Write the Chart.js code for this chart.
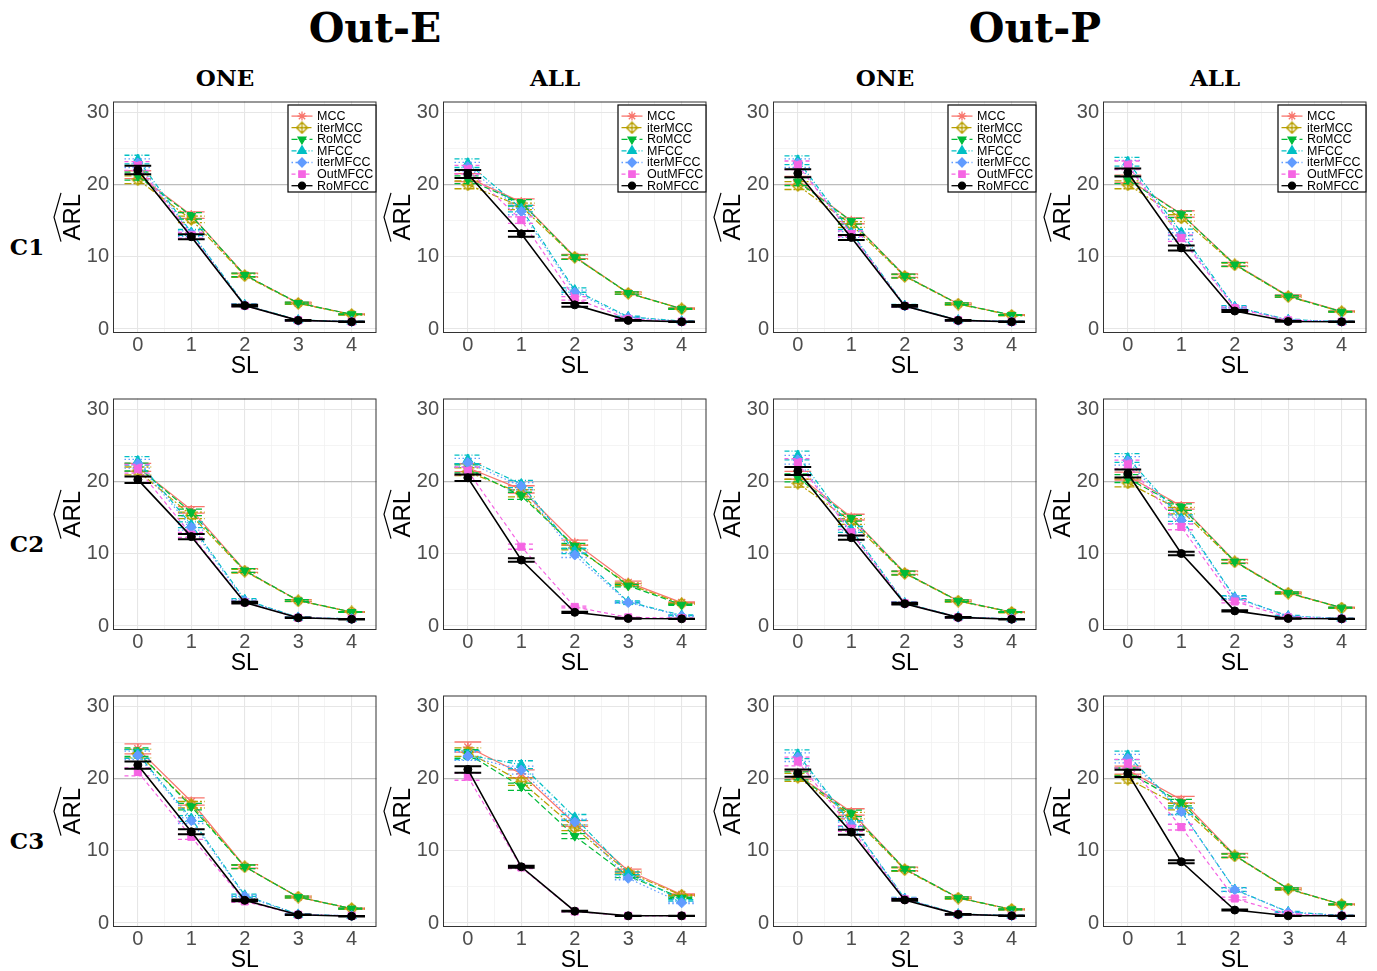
<!DOCTYPE html>
<html>
<head>
<meta charset="utf-8">
<script src="https://cdn.jsdelivr.net/npm/chart.js@4.4.0/dist/chart.umd.min.js"></script>
<style>
  body { margin: 0; background: #fff; width: 1377px; height: 971px; position: relative; overflow: hidden; }
  canvas.panel { position: absolute; }
  .lbl { position: absolute; transform: translate(-50%, -50%); font-family: "DejaVu Serif", serif; font-weight: bold; color: #000; white-space: nowrap; }
  .big { font-size: 41px; }
  .small { font-size: 23px; }
</style>
</head>
<body>
<div class="lbl big" style="left:375px;top:28px">Out-E</div>
<div class="lbl big" style="left:1035px;top:28px">Out-P</div>
<div class="lbl small" style="left:225px;top:77px">ONE</div>
<div class="lbl small" style="left:555px;top:77px">ALL</div>
<div class="lbl small" style="left:885px;top:77px">ONE</div>
<div class="lbl small" style="left:1215px;top:77px">ALL</div>
<div class="lbl small" style="left:27px;top:246px">C1</div>
<div class="lbl small" style="left:27px;top:543px">C2</div>
<div class="lbl small" style="left:27px;top:840px">C3</div>

<script>
// methods, in legend order
const SERIES = ['MCC', 'iterMCC', 'RoMCC', 'MFCC', 'iterMFCC', 'OutMFCC', 'RoMFCC'];
const COLORS = ['#F8766D', '#B79F00', '#00BA38', '#00BFC4', '#619CFF', '#F564E3', '#000000'];
const DASHES = [[], [7, 2, 2, 2], [6, 3], [5, 2, 1, 2], [1.5, 2.5], [4, 3], []];
const SL = [0, 1, 2, 3, 4];

// ARL estimates, one row per method (same order as SERIES)
const ARL_C1_E_ONE = [
  [21.4, 15.8, 7.5, 3.6, 2.05],
  [20.7, 15.2, 7.4, 3.55, 2.0],
  [21.2, 15.7, 7.5, 3.6, 2.05],
  [23.5, 13.4, 3.35, 1.25, 1.05],
  [23.0, 13.2, 3.3, 1.2, 1.02],
  [22.6, 13.0, 3.25, 1.2, 1.02],
  [22.05, 12.8, 3.25, 1.2, 1.0]
];
const ARL_C1_E_ALL = [
  [21.0, 17.6, 10.05, 5.0, 2.85],
  [20.0, 17.0, 9.95, 4.95, 2.8],
  [20.7, 17.5, 9.95, 5.0, 2.8],
  [23.0, 16.7, 5.4, 1.7, 1.1],
  [22.5, 16.3, 5.1, 1.6, 1.05],
  [22.1, 15.1, 4.25, 1.4, 1.03],
  [21.5, 13.2, 3.35, 1.2, 1.0]
];
const ARL_C1_P_ONE = [
  [20.6, 15.0, 7.4, 3.5, 1.95],
  [19.9, 14.5, 7.3, 3.45, 1.9],
  [20.45, 14.95, 7.35, 3.5, 1.95],
  [23.4, 13.4, 3.25, 1.25, 1.05],
  [23.0, 13.1, 3.2, 1.2, 1.02],
  [22.7, 13.2, 3.2, 1.2, 1.02],
  [21.6, 12.7, 3.2, 1.2, 1.0]
];
const ARL_C1_P_ALL = [
  [20.8, 15.95, 9.0, 4.6, 2.45],
  [20.0, 15.4, 8.9, 4.5, 2.4],
  [20.7, 15.9, 8.95, 4.55, 2.4],
  [23.2, 13.4, 3.1, 1.3, 1.05],
  [22.8, 12.9, 3.0, 1.25, 1.03],
  [22.7, 12.6, 2.9, 1.2, 1.02],
  [21.7, 11.25, 2.5, 1.05, 1.0]
];
const ARL_C2_E_ONE = [
  [22.0, 16.1, 7.7, 3.55, 1.95],
  [21.5, 15.35, 7.6, 3.5, 1.95],
  [22.05, 15.75, 7.7, 3.55, 1.95],
  [22.9, 14.05, 3.65, 1.2, 1.0],
  [22.5, 13.7, 3.5, 1.2, 1.0],
  [21.8, 12.65, 3.3, 1.15, 1.0],
  [20.3, 12.4, 3.25, 1.15, 0.95]
];
const ARL_C2_E_ALL = [
  [21.95, 18.95, 11.55, 6.05, 3.25],
  [21.4, 18.4, 10.9, 5.8, 3.1],
  [21.8, 18.05, 11.1, 5.6, 2.95],
  [23.1, 19.7, 10.4, 3.35, 1.5],
  [22.65, 19.4, 9.85, 3.25, 1.4],
  [21.5, 11.0, 2.65, 1.2, 1.1],
  [20.55, 9.15, 1.9, 1.05, 1.0]
];
const ARL_C2_P_ONE = [
  [20.9, 15.1, 7.4, 3.5, 1.95],
  [19.8, 14.5, 7.3, 3.45, 1.9],
  [20.55, 14.95, 7.35, 3.5, 1.95],
  [23.65, 13.4, 3.2, 1.25, 1.0],
  [23.05, 12.9, 3.15, 1.2, 1.0],
  [22.6, 13.0, 3.15, 1.2, 1.0],
  [21.5, 12.25, 3.1, 1.2, 0.95]
];
const ARL_C2_P_ALL = [
  [20.8, 16.65, 9.0, 4.6, 2.55],
  [19.85, 16.0, 8.9, 4.55, 2.5],
  [20.45, 16.5, 8.95, 4.6, 2.55],
  [23.3, 14.95, 4.0, 1.4, 1.05],
  [22.9, 14.65, 3.9, 1.35, 1.03],
  [22.4, 13.75, 3.4, 1.2, 1.02],
  [21.15, 10.05, 2.1, 1.05, 1.0]
];
const ARL_C3_E_ONE = [
  [24.15, 16.85, 7.85, 3.6, 2.0],
  [23.5, 16.4, 7.8, 3.6, 2.0],
  [23.7, 16.15, 7.8, 3.6, 2.0],
  [23.45, 14.5, 3.85, 1.2, 1.0],
  [23.25, 14.2, 3.7, 1.2, 1.0],
  [20.95, 11.95, 3.0, 1.15, 1.0],
  [21.9, 12.65, 3.15, 1.15, 0.95]
];
const ARL_C3_E_ALL = [
  [24.4, 20.7, 13.8, 7.25, 3.95],
  [23.7, 19.6, 13.2, 7.0, 3.85],
  [23.45, 18.9, 12.05, 6.5, 3.5],
  [23.3, 21.95, 14.65, 6.9, 3.15],
  [23.15, 21.2, 14.0, 6.2, 2.8],
  [20.3, 7.7, 1.6, 1.0, 1.0],
  [21.3, 7.8, 1.65, 1.0, 1.0]
];
const ARL_C3_P_ONE = [
  [20.5, 15.4, 7.5, 3.5, 1.9],
  [20.2, 14.9, 7.4, 3.45, 1.9],
  [20.4, 15.2, 7.5, 3.5, 1.9],
  [23.4, 13.8, 3.4, 1.25, 1.05],
  [23.0, 13.6, 3.35, 1.2, 1.02],
  [22.4, 13.1, 3.3, 1.2, 1.02],
  [20.8, 12.6, 3.2, 1.2, 1.0]
];
const ARL_C3_P_ALL = [
  [21.2, 17.1, 9.4, 4.75, 2.6],
  [19.95, 16.15, 9.3, 4.7, 2.55],
  [20.95, 16.7, 9.35, 4.75, 2.6],
  [23.25, 15.5, 4.65, 1.55, 1.05],
  [22.8, 15.45, 4.6, 1.5, 1.03],
  [22.1, 13.3, 3.4, 1.2, 1.02],
  [20.75, 8.5, 1.8, 1.0, 1.0]
];

// half-widths of the error bars, same layout as above
const SE_C1_E_ONE = [
  [0.55, 0.45, 0.25, 0.12, 0.06], [0.55, 0.45, 0.25, 0.12, 0.06], [0.55, 0.45, 0.25, 0.12, 0.06],
  [0.6, 0.4, 0.15, 0.05, 0.03], [0.6, 0.4, 0.15, 0.05, 0.03], [0.6, 0.4, 0.15, 0.05, 0.03],
  [0.6, 0.35, 0.12, 0.05, 0.03]
];
const SE_C1_E_ALL = [
  [0.55, 0.45, 0.3, 0.15, 0.07], [0.55, 0.45, 0.3, 0.15, 0.07], [0.55, 0.45, 0.3, 0.15, 0.07],
  [0.6, 0.45, 0.3, 0.08, 0.03], [0.6, 0.45, 0.3, 0.08, 0.03], [0.6, 0.45, 0.25, 0.07, 0.03],
  [0.55, 0.4, 0.25, 0.06, 0.03]
];
const SE_C1_P_ONE = [
  [0.55, 0.4, 0.25, 0.12, 0.06], [0.55, 0.4, 0.25, 0.12, 0.06], [0.55, 0.4, 0.25, 0.12, 0.06],
  [0.6, 0.4, 0.15, 0.05, 0.03], [0.6, 0.4, 0.15, 0.05, 0.03], [0.6, 0.4, 0.15, 0.05, 0.03],
  [0.55, 0.35, 0.12, 0.05, 0.03]
];
const SE_C1_P_ALL = [
  [0.55, 0.45, 0.25, 0.12, 0.06], [0.55, 0.45, 0.25, 0.12, 0.06], [0.55, 0.45, 0.25, 0.12, 0.06],
  [0.6, 0.45, 0.15, 0.05, 0.03], [0.6, 0.45, 0.15, 0.05, 0.03], [0.6, 0.45, 0.15, 0.05, 0.03],
  [0.55, 0.35, 0.15, 0.05, 0.03]
];
const SE_C2_E_ONE = [
  [0.55, 0.45, 0.25, 0.12, 0.06], [0.55, 0.45, 0.25, 0.12, 0.06], [0.55, 0.45, 0.25, 0.12, 0.06],
  [0.6, 0.4, 0.15, 0.05, 0.03], [0.6, 0.4, 0.15, 0.05, 0.03], [0.6, 0.35, 0.15, 0.05, 0.03],
  [0.45, 0.35, 0.12, 0.05, 0.03]
];
const SE_C2_E_ALL = [
  [0.55, 0.5, 0.35, 0.18, 0.08], [0.55, 0.5, 0.35, 0.18, 0.08], [0.55, 0.5, 0.35, 0.18, 0.08],
  [0.6, 0.5, 0.35, 0.12, 0.05], [0.6, 0.5, 0.35, 0.12, 0.05], [0.55, 0.35, 0.12, 0.04, 0.02],
  [0.45, 0.25, 0.08, 0.03, 0.02]
];
const SE_C2_P_ONE = [
  [0.55, 0.4, 0.25, 0.12, 0.06], [0.55, 0.4, 0.25, 0.12, 0.06], [0.55, 0.4, 0.25, 0.12, 0.06],
  [0.6, 0.4, 0.15, 0.05, 0.03], [0.6, 0.4, 0.15, 0.05, 0.03], [0.6, 0.4, 0.15, 0.05, 0.03],
  [0.55, 0.3, 0.12, 0.05, 0.03]
];
const SE_C2_P_ALL = [
  [0.55, 0.45, 0.25, 0.12, 0.06], [0.55, 0.45, 0.25, 0.12, 0.06], [0.55, 0.45, 0.25, 0.12, 0.06],
  [0.6, 0.45, 0.2, 0.06, 0.03], [0.6, 0.45, 0.2, 0.06, 0.03], [0.6, 0.4, 0.2, 0.05, 0.03],
  [0.55, 0.25, 0.08, 0.04, 0.02]
];
const SE_C3_E_ONE = [
  [0.7, 0.5, 0.25, 0.12, 0.06], [0.6, 0.45, 0.25, 0.12, 0.06], [0.6, 0.45, 0.25, 0.12, 0.06],
  [0.6, 0.4, 0.15, 0.05, 0.03], [0.6, 0.4, 0.15, 0.05, 0.03], [0.55, 0.35, 0.12, 0.05, 0.03],
  [0.5, 0.35, 0.12, 0.05, 0.03]
];
const SE_C3_E_ALL = [
  [0.7, 0.55, 0.4, 0.22, 0.1], [0.6, 0.5, 0.4, 0.2, 0.1], [0.6, 0.5, 0.35, 0.2, 0.1],
  [0.65, 0.55, 0.4, 0.2, 0.1], [0.6, 0.55, 0.4, 0.2, 0.1], [0.5, 0.15, 0.05, 0.02, 0.02],
  [0.45, 0.15, 0.05, 0.02, 0.02]
];
const SE_C3_P_ONE = [
  [0.55, 0.45, 0.25, 0.12, 0.06], [0.55, 0.45, 0.25, 0.12, 0.06], [0.55, 0.45, 0.25, 0.12, 0.06],
  [0.6, 0.4, 0.15, 0.05, 0.03], [0.6, 0.4, 0.15, 0.05, 0.03], [0.6, 0.4, 0.15, 0.05, 0.03],
  [0.5, 0.35, 0.12, 0.05, 0.03]
];
const SE_C3_P_ALL = [
  [0.55, 0.45, 0.25, 0.12, 0.06], [0.55, 0.45, 0.25, 0.12, 0.06], [0.55, 0.45, 0.25, 0.12, 0.06],
  [0.6, 0.45, 0.25, 0.07, 0.03], [0.6, 0.45, 0.25, 0.07, 0.03], [0.6, 0.4, 0.2, 0.05, 0.03],
  [0.5, 0.2, 0.07, 0.02, 0.02]
];

const PANELS = [
  [ARL_C1_E_ONE, SE_C1_E_ONE], [ARL_C1_E_ALL, SE_C1_E_ALL], [ARL_C1_P_ONE, SE_C1_P_ONE], [ARL_C1_P_ALL, SE_C1_P_ALL],
  [ARL_C2_E_ONE, SE_C2_E_ONE], [ARL_C2_E_ALL, SE_C2_E_ALL], [ARL_C2_P_ONE, SE_C2_P_ONE], [ARL_C2_P_ALL, SE_C2_P_ALL],
  [ARL_C3_E_ONE, SE_C3_E_ONE], [ARL_C3_E_ALL, SE_C3_E_ALL], [ARL_C3_P_ONE, SE_C3_P_ONE], [ARL_C3_P_ALL, SE_C3_P_ALL]
];

const CAP = 0.25;            // half width of error bar caps (x units)
const AXIS_W = 70, AXIS_H = 55;
const PLOT_W = 264, PLOT_H = 234;
const SANS = '"Liberation Sans", Arial, sans-serif';

// hollow diamond with a plus inside (iterMCC marker)
function diamondPlus(color) {
  const c = document.createElement('canvas');
  c.width = c.height = 13;
  const g = c.getContext('2d');
  g.strokeStyle = color; g.lineWidth = 1.3;
  g.beginPath();
  g.moveTo(6.5, 1); g.lineTo(12, 6.5); g.lineTo(6.5, 12); g.lineTo(1, 6.5); g.closePath();
  g.moveTo(6.5, 1); g.lineTo(6.5, 12); g.moveTo(1, 6.5); g.lineTo(12, 6.5);
  g.stroke();
  return c;
}

const MARKERS = [
  { style: 'star', rot: 0, r: 5 },
  { style: diamondPlus(COLORS[1]), rot: 0, r: 5 },
  { style: 'triangle', rot: 180, r: 5 },
  { style: 'triangle', rot: 0, r: 5.5 },
  { style: 'rectRot', rot: 0, r: 5 },
  { style: 'rect', rot: 0, r: 5 },
  { style: 'circle', rot: 0, r: 4 }
];

// error bars go under each method's own line and points
const errorBars = {
  id: 'errorBars',
  beforeDatasetDraw(chart, args) {
    const ds = chart.data.datasets[args.index];
    const xs = chart.scales.x, ys = chart.scales.y, ctx = chart.ctx;
    ctx.save();
    ctx.strokeStyle = ds.borderColor;
    ctx.lineWidth = ds.errWidth;
    ctx.setLineDash(ds.borderDash);
    ds.data.forEach((p, i) => {
      const hi = ys.getPixelForValue(p.y + ds.err[i]);
      const lo = ys.getPixelForValue(p.y - ds.err[i]);
      const x0 = xs.getPixelForValue(p.x - CAP), x1 = xs.getPixelForValue(p.x + CAP);
      const xc = xs.getPixelForValue(p.x);
      ctx.beginPath();
      ctx.moveTo(x0, hi); ctx.lineTo(x1, hi);
      ctx.moveTo(x0, lo); ctx.lineTo(x1, lo);
      ctx.moveTo(xc, hi); ctx.lineTo(xc, lo);
      ctx.stroke();
    });
    ctx.restore();
  }
};

const panelFrame = {
  id: 'panelFrame',
  afterDatasetsDraw(chart) {
    const { ctx, chartArea: a } = chart;
    ctx.save();
    ctx.strokeStyle = '#333333';
    ctx.lineWidth = 1;
    ctx.strokeRect(a.left + 0.5, a.top + 0.5, a.width - 1, a.height - 1);
    ctx.restore();
  }
};

// rotated "ARL" with a wide hat
const arlTitle = {
  id: 'arlTitle',
  afterDraw(chart) {
    const { ctx, chartArea: a } = chart;
    ctx.save();
    ctx.translate(a.left - 41, (a.top + a.bottom) / 2);
    ctx.rotate(-Math.PI / 2);
    ctx.font = '24px ' + SANS;
    ctx.fillStyle = '#000';
    ctx.textAlign = 'center';
    ctx.textBaseline = 'middle';
    ctx.fillText('ARL', 0, 1);
    const w = ctx.measureText('ARL').width;
    ctx.beginPath();
    ctx.moveTo(-w / 2 - 1, -11);
    ctx.lineTo(0, -18);
    ctx.lineTo(w / 2 + 1, -11);
    ctx.strokeStyle = '#000';
    ctx.lineWidth = 1.2;
    ctx.stroke();
    ctx.restore();
  }
};

const boxLegend = {
  id: 'boxLegend',
  afterDraw(chart, args, opts) {
    if (!opts.show) return;
    const { ctx, chartArea: a } = chart;
    const w = 89, h = 88, left = a.right - w, top = a.top + 3, rowH = 11.6;
    ctx.save();
    ctx.fillStyle = '#fff';
    ctx.fillRect(left, top, w, h);
    ctx.strokeStyle = '#000';
    ctx.lineWidth = 1.2;
    ctx.strokeRect(left + 0.5, top + 0.5, w - 1, h - 1);
    ctx.font = '12.5px ' + SANS;
    ctx.textBaseline = 'middle';
    SERIES.forEach((name, i) => {
      const y = top + rowH * (i + 1);
      ctx.strokeStyle = COLORS[i];
      ctx.lineWidth = 1.3;
      ctx.setLineDash(DASHES[i]);
      ctx.beginPath();
      ctx.moveTo(left + 4, y); ctx.lineTo(left + 25, y);
      ctx.stroke();
      ctx.setLineDash([]);
      ctx.fillStyle = COLORS[i];
      Chart.helpers.drawPoint(ctx, {
        pointStyle: MARKERS[i].style, rotation: MARKERS[i].rot,
        radius: MARKERS[i].r - 0.5, borderWidth: 1.2
      }, left + 14.5, y);
      ctx.fillStyle = '#000';
      ctx.fillText(name, left + 29.5, y + 0.5);
    });
    ctx.restore();
  }
};

PANELS.forEach(([arl, se], k) => {
  const row = Math.floor(k / 4), col = k % 4;
  const cv = document.createElement('canvas');
  cv.className = 'panel';
  cv.width = AXIS_W + PLOT_W + 6;
  cv.height = 4 + PLOT_H + AXIS_H;
  cv.style.left = (43 + 330 * col) + 'px';
  cv.style.top = (95 + 297 * row) + 'px';
  cv.style.width = cv.width + 'px';
  cv.style.height = cv.height + 'px';
  document.body.appendChild(cv);

  const datasets = SERIES.map((name, i) => ({
    label: name,
    data: SL.map((s, j) => ({ x: s, y: arl[i][j] })),
    err: se[i],
    errWidth: i === 6 ? 2 : 1.3,
    borderColor: COLORS[i],
    backgroundColor: COLORS[i],
    borderWidth: i === 6 ? 1.6 : 1.2,
    borderDash: DASHES[i],
    pointStyle: MARKERS[i].style,
    pointRotation: MARKERS[i].rot,
    pointRadius: MARKERS[i].r,
    pointBorderWidth: i === 0 ? 1.3 : 1,
    pointBackgroundColor: COLORS[i],
    pointBorderColor: COLORS[i],
    tension: 0,
    order: 6 - i
  }));

  new Chart(cv, {
    type: 'line',
    data: { datasets },
    options: {
      responsive: false,
      animation: false,
      devicePixelRatio: 1,
      layout: { padding: { top: 4, right: 6, left: 0, bottom: 0 } },
      plugins: {
        legend: { display: false },
        tooltip: { enabled: false },
        boxLegend: { show: row === 0 }
      },
      scales: {
        x: {
          type: 'linear',
          min: -0.465, max: 4.465,
          afterBuildTicks: s => { s.ticks = [0, 0.5, 1, 1.5, 2, 2.5, 3, 3.5, 4].map(v => ({ value: v })); },
          afterFit: s => { s.height = AXIS_H; s.paddingLeft = 0; s.paddingRight = 0; },
          border: { display: false },
          grid: {
            drawTicks: false,
            color: c => Number.isInteger(c.tick.value) ? '#e6e6e6' : '#f1f1f1',
            lineWidth: c => Number.isInteger(c.tick.value) ? 1.1 : 0.8
          },
          ticks: {
            autoSkip: false, maxRotation: 0, padding: 0,
            color: '#4d4d4d', font: { family: SANS, size: 20 },
            callback: v => Number.isInteger(v) ? String(v) : ''
          },
          title: {
            display: true, text: 'SL', color: '#000',
            font: { family: SANS, size: 23 },
            padding: { top: 0, bottom: 8 }
          }
        },
        y: {
          type: 'linear',
          min: -0.55, max: 31.55,
          afterBuildTicks: s => { s.ticks = [0, 5, 10, 15, 20, 25, 30].map(v => ({ value: v })); },
          afterFit: s => { s.width = AXIS_W; s.paddingTop = 0; s.paddingBottom = 0; },
          border: { display: false },
          grid: {
            drawTicks: false,
            color: c => c.tick.value === 20 ? '#bdbdbd' : (c.tick.value % 10 === 0 ? '#e6e6e6' : '#f1f1f1'),
            lineWidth: c => c.tick.value === 20 ? 1.3 : (c.tick.value % 10 === 0 ? 1.1 : 0.8)
          },
          ticks: {
            autoSkip: false, padding: 4,
            color: '#4d4d4d', font: { family: SANS, size: 20 },
            callback: v => v % 10 === 0 ? String(v) : ''
          }
        }
      }
    },
    plugins: [errorBars, panelFrame, arlTitle, boxLegend]
  });
});
</script>
</body>
</html>
